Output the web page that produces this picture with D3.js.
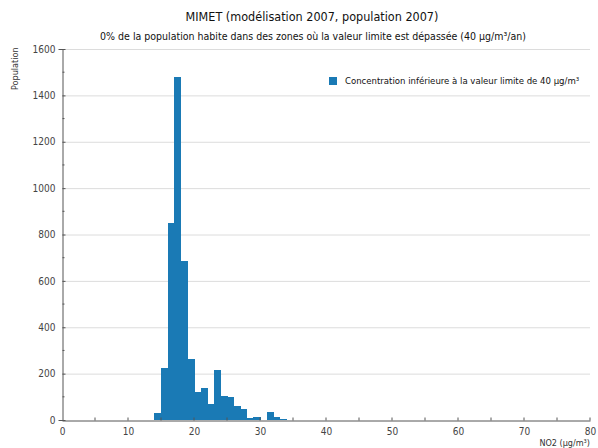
<!DOCTYPE html>
<html><head><meta charset="utf-8">
<script src="https://cdn.jsdelivr.net/npm/d3@7"></script>
<style>
body{margin:0;background:#fff;}
text{font-family:"DejaVu Sans Condensed","DejaVu Sans",sans-serif;font-stretch:condensed;}
</style></head>
<body><svg id="c" width="598" height="448"></svg>
<script>
const binStarts = [14,15,16,17,18,19,20,21,22,23,24,25,26,27,28,29,30,31,32,33];
const populations = [31,223,851,1479,685,262,120,136,67,216,105,98,59,46,8,12,0,36,12,6];
const xTicks = [0,10,20,30,40,50,60,70,80];
const yTicks = [0,200,400,600,800,1000,1200,1400,1600];
const title = "MIMET (modélisation 2007, population 2007)";
const subtitle = "0% de la population habite dans des zones où la valeur limite est dépassée (40 µg/m³/an)";
const legendLabel = "Concentration inférieure à la valeur limite de 40 µg/m³";
const binWidth = 1;

const svg = d3.select("#c");
const L=62,R=590,T=49,B=420;
const x = d3.scaleLinear().domain([0,80]).range([L,R]);
const y = d3.scaleLinear().domain([0,1600]).range([B,T]);
const blue = "#1a7ab5";

// grid
svg.append("g").selectAll("line").data(yTicks.filter(d=>d>0)).join("line")
  .attr("x1",L).attr("x2",R).attr("y1",d=>y(d)+0.5).attr("y2",d=>y(d)+0.5)
  .attr("stroke","#dcdcdc").attr("stroke-width",1);

// bars
svg.append("g").attr("shape-rendering","crispEdges").selectAll("rect")
  .data(binStarts.map((b,i)=>({b,v:populations[i]})).filter(d=>d.v>0)).join("rect")
  .attr("x",d=>x(d.b)).attr("width",d=>x(d.b+binWidth)-x(d.b)+0.5)
  .attr("y",d=>y(d.v)).attr("height",d=>B-y(d.v))
  .attr("fill",blue);

// y axis
const ya = d3.axisLeft(y).tickValues(yTicks).tickSize(4).tickPadding(3).tickFormat(d3.format("d"));
const gy = svg.append("g").attr("transform",`translate(${L+0.5},0)`).call(ya);
gy.select(".domain").attr("stroke","#555");
gy.selectAll(".tick line").attr("stroke","#555").attr("x2",3);
gy.selectAll(".tick text").attr("fill","#444").style("font-size","10px");
gy.append("g").selectAll("line").data(d3.range(100,1600,200)).join("line")
  .attr("x1",0).attr("x2",2).attr("y1",d=>y(d)).attr("y2",d=>y(d)).attr("stroke","#555");

// x axis
const xa = d3.axisBottom(x).tickValues(xTicks).tickSize(0).tickPadding(7).tickFormat(d3.format("d"));
const gx = svg.append("g").attr("transform",`translate(0,${B+0.5})`).call(xa);
gx.select(".domain").attr("stroke","#555");
gx.selectAll(".tick text").attr("fill","#444").style("font-size","10px");
gx.append("g").selectAll("line").data(d3.range(5,81,5)).join("line")
  .attr("x1",d=>x(d)).attr("x2",d=>x(d)).attr("y1",0).attr("y2",-3).attr("stroke","#555");

// titles
svg.append("text").attr("x",312).attr("y",21).attr("text-anchor","middle")
  .style("font-size","12.5px").attr("fill","#111").text(title);
svg.append("text").attr("x",313).attr("y",40).attr("text-anchor","middle")
  .style("font-size","10.5px").attr("fill","#111").text(subtitle);
svg.append("text").attr("transform","translate(18,90) rotate(-90)")
  .style("font-size","9px").attr("fill","#333").text("Population");
svg.append("text").attr("x",590).attr("y",446).attr("text-anchor","end")
  .style("font-size","9px").attr("fill","#333").text("NO2 (µg/m³)");

// legend
svg.append("rect").attr("x",329).attr("y",77).attr("width",8).attr("height",8).attr("fill",blue);
svg.append("text").attr("x",345).attr("y",84).style("font-size","9.5px").attr("fill","#111").text(legendLabel);
</script></body></html>
